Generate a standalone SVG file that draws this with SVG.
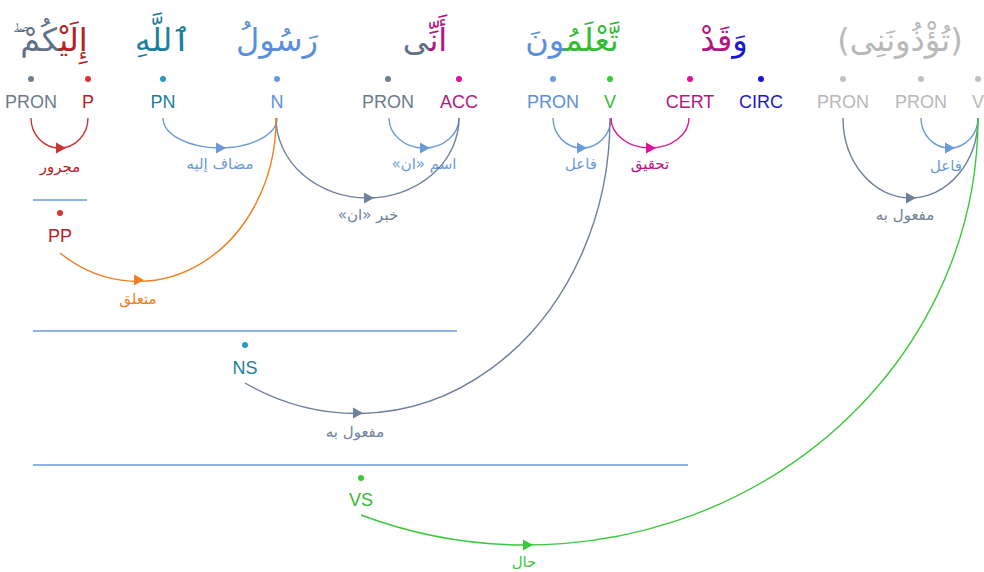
<svg xmlns="http://www.w3.org/2000/svg" width="984" height="572" viewBox="0 0 984 572">
<style>
.w{font-family:"DejaVu Sans",sans-serif;font-size:32px;text-anchor:middle;direction:rtl}
.t{font-family:"Liberation Sans",Arial,sans-serif;font-size:18px;text-anchor:middle}
.l{font-family:"DejaVu Sans",sans-serif;font-size:15px;text-anchor:middle;direction:rtl}
.a{fill:none;stroke-width:1.4}
.h{stroke:#6a9ad8;stroke-width:1.5}
</style>
<defs>
<path id="ah" d="M-4,-5.5 L6,0 L-4,5.5 Z"/>
</defs>
<rect width="984" height="572" fill="#ffffff"/>
<g id="words">
<text class="w" x="50" y="51"><tspan fill="#b22222">إِلَيْ</tspan><tspan fill="#5f7286">كُمْ ۖ</tspan></text>
<text class="w" x="163" y="51" fill="#1d7f9c">ٱللَّهِ</text>
<text class="w" x="277" y="51" fill="#5b8fd9">رَسُولُ</text>
<text class="w" x="425" y="51"><tspan fill="#b3177f">أَنِّ</tspan><tspan fill="#5f7286">ى</tspan></text>
<text class="w" x="572" y="51"><tspan fill="#33bb33">تَّعْلَمُ</tspan><tspan fill="#5b8fd9">ونَ</tspan></text>
<text class="w" x="724" y="51"><tspan fill="#1a1acc">وَ</tspan><tspan fill="#b3177f">قَدْ</tspan></text>
<text class="w" x="900" y="51" fill="#b8b8b8">(تُؤْذُونَنِى)</text>
</g>
<g id="tags">
<g id="n-pron1"><circle cx="31" cy="79" r="3" fill="#708090"/><text class="t" x="31" y="108" fill="#6b7b8c">PRON</text></g>
<g id="n-p"><circle cx="88" cy="79" r="3" fill="#dd3333"/><text class="t" x="88" y="108" fill="#b22222">P</text></g>
<g id="n-pn"><circle cx="163" cy="79" r="3" fill="#2899c0"/><text class="t" x="163" y="108" fill="#1d7f9c">PN</text></g>
<g id="n-n"><circle cx="277" cy="79" r="3" fill="#6b9be0"/><text class="t" x="277" y="108" fill="#5b8fd9">N</text></g>
<g id="n-pron2"><circle cx="388" cy="79" r="3" fill="#708090"/><text class="t" x="388" y="108" fill="#6b7b8c">PRON</text></g>
<g id="n-acc"><circle cx="459" cy="79" r="3" fill="#e0109b"/><text class="t" x="459" y="108" fill="#b3177f">ACC</text></g>
<g id="n-pron3"><circle cx="553" cy="79" r="3" fill="#6b9be0"/><text class="t" x="553" y="108" fill="#5b8fd9">PRON</text></g>
<g id="n-v1"><circle cx="610" cy="79" r="3" fill="#33cc33"/><text class="t" x="610" y="108" fill="#33bb33">V</text></g>
<g id="n-cert"><circle cx="690" cy="79" r="3" fill="#e0109b"/><text class="t" x="690" y="108" fill="#b3177f">CERT</text></g>
<g id="n-circ"><circle cx="761" cy="79" r="3" fill="#1515e0"/><text class="t" x="761" y="108" fill="#1a1acc">CIRC</text></g>
<g id="n-pron4"><circle cx="843" cy="79" r="3" fill="#c0c0c0"/><text class="t" x="843" y="108" fill="#b8b8b8">PRON</text></g>
<g id="n-pron5"><circle cx="921" cy="79" r="3" fill="#c0c0c0"/><text class="t" x="921" y="108" fill="#b8b8b8">PRON</text></g>
<g id="n-v2"><circle cx="978" cy="79" r="3" fill="#c0c0c0"/><text class="t" x="978" y="108" fill="#b8b8b8">V</text></g>
</g>
<g id="phrases">
<g id="n-pp"><line class="h" x1="33" y1="200" x2="87" y2="200"/><circle cx="60" cy="213" r="3" fill="#dd3333"/><text class="t" x="60" y="242" fill="#b22222">PP</text></g>
<g id="n-ns"><line class="h" x1="33" y1="331" x2="457" y2="331"/><circle cx="245" cy="345" r="3" fill="#2899c0"/><text class="t" x="245" y="374" fill="#1d7f9c">NS</text></g>
<g id="n-vs"><line class="h" x1="33" y1="465" x2="688" y2="465"/><circle cx="361" cy="478" r="3" fill="#33cc33"/><text class="t" x="361" y="506" fill="#33bb33">VS</text></g>
</g>
<g id="connectors">
<path class="a" stroke="#cc3333" d="M88,118 A28.5,30 0 0 1 31,118"/>
<use href="#ah" x="60" y="148" fill="#cc3333"/>
<text class="l" x="60" y="172" fill="#b22222">مجرور</text>

<path class="a" stroke="#6a9ad8" d="M277,118 A57,30 0 0 1 163,118"/>
<use href="#ah" x="220" y="148" fill="#6a9ad8"/>
<text class="l" x="220" y="169" fill="#6a9ad8">مضاف إليه</text>

<path class="a" stroke="#6a9ad8" d="M459,118 A35,30 0 0 1 389,118"/>
<use href="#ah" x="424" y="148" fill="#6a9ad8"/>
<text class="l" x="424" y="169" fill="#6a9ad8">اسم «ان»</text>

<path class="a" stroke="#6f819a" d="M459,118 A91.5,80 0 0 1 276,118"/>
<use href="#ah" x="368" y="198" fill="#6f819a"/>
<text class="l" x="368" y="220" fill="#6f819a">خبر «ان»</text>

<path class="a" stroke="#6a9ad8" d="M611,118 A29,30 0 0 1 553,118"/>
<use href="#ah" x="581" y="148" fill="#6a9ad8"/>
<text class="l" x="581" y="169" fill="#6a9ad8">فاعل</text>

<path class="a" stroke="#e0109b" d="M689,118 A39,30 0 0 1 611,118"/>
<use href="#ah" x="650" y="148" fill="#e0109b"/>
<text class="l" x="650" y="169" fill="#b3177f">تحقيق</text>

<path class="a" stroke="#6a9ad8" d="M978,118 A28.5,30 0 0 1 921,118"/>
<use href="#ah" x="949" y="148" fill="#6a9ad8"/>
<text class="l" x="946" y="171" fill="#6a9ad8">فاعل</text>

<path class="a" stroke="#6f819a" d="M978,118 A67.5,80 0 0 1 843,118"/>
<use href="#ah" x="910" y="198" fill="#6f819a"/>
<text class="l" x="905" y="220" fill="#6f819a">مفعول به</text>

<path class="a" stroke="#f08020" d="M276,118 A138,162 0 0 1 60,253"/>
<use href="#ah" x="138" y="280" fill="#f08020"/>
<text class="l" x="138" y="304" fill="#f08020">متعلق</text>

<path class="a" stroke="#6f819a" d="M610,118 A253,295 0 0 1 245,383"/>
<use href="#ah" x="357" y="413" fill="#6f819a"/>
<text class="l" x="355" y="437" fill="#6f819a">مفعول به</text>

<path class="a" stroke="#3cc83c" d="M978,118 A451,427 0 0 1 361,515"/>
<use href="#ah" x="527" y="545" fill="#3cc83c"/>
<text class="l" x="524" y="567" fill="#3cc83c">حال</text>
</g>
</svg>
